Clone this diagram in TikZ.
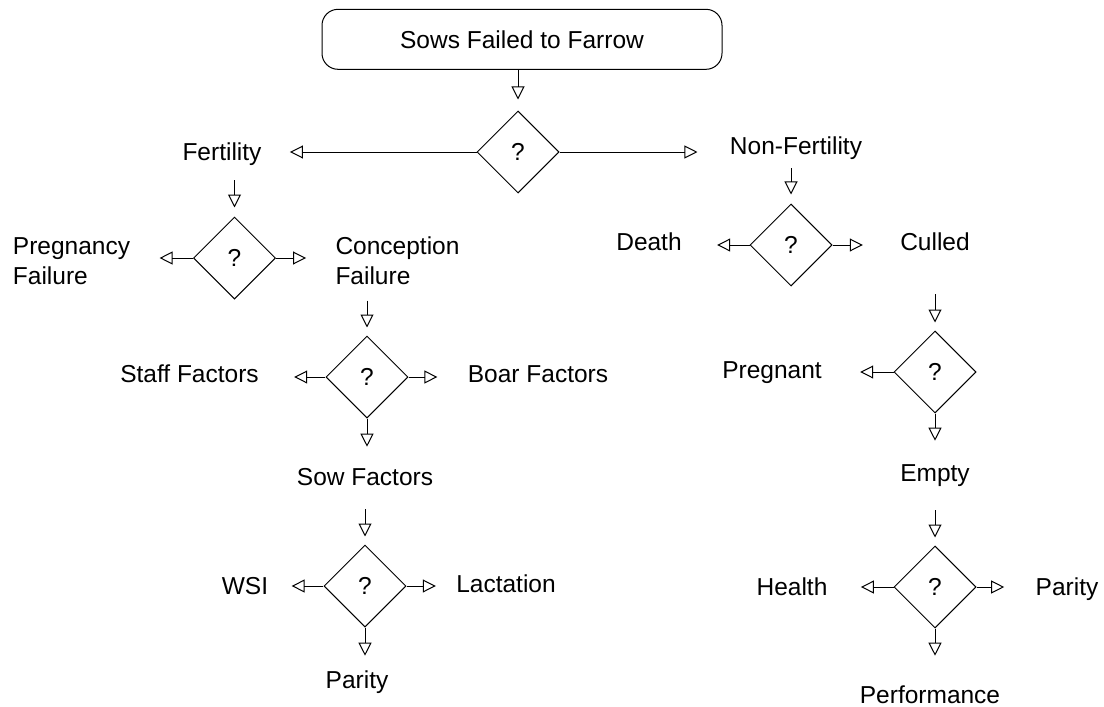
\documentclass[tikz,border=0pt]{standalone}
\usepackage{fontspec}
\setmainfont{Liberation Sans}
\usepackage{tikz}
\usetikzlibrary{positioning, arrows.meta, shapes.geometric}

\begin{document}
\begin{tikzpicture}[on grid, line width=0.5pt, ->, >={Triangle[open, length=6.5pt, width=6.5pt]},
    every node/.style={font=\fontsize{12.25}{15}\selectfont},
    start/.style={draw, rounded corners=8pt, minimum width=200pt, minimum height=30pt, inner sep=0pt},
    ask/.style={diamond, draw, minimum size=41pt, inner sep=0pt},
    lbl/.style={inner sep=0pt, text height=8.8pt, text depth=0pt},
    lbltwo/.style={inner sep=0pt, align=left}]
      \useasboundingbox (0,0) rectangle (552pt,-353.5pt);
      \node[start] (top) at (261pt,-19.65pt) {Sows Failed to Farrow};
      \node[ask, below=56.35pt of top, xshift=-2pt] (d1) {?};
      \node[lbl, left=148pt of d1] (fert) {Fertility};
      \node[lbl, right=139pt of d1, yshift=3pt] (nonfert) {Non-Fertility};
      % fertility side
      \node[ask, below=53pt of fert, xshift=6.25pt] (d2) {?};
      \node[lbltwo, left=81.5pt of d2, yshift=-1.5pt] (pregfail) {Pregnancy\\Failure};
      \node[lbltwo, right=81.5pt of d2, yshift=-1.5pt] (concfail) {Conception\\Failure};
      \node[ask, below=58pt of concfail, xshift=-15.25pt] (d3) {?};
      \node[lbl, left=88.75pt of d3, yshift=1.5pt] (staff) {Staff Factors};
      \node[lbl, right=85.5pt of d3, yshift=1.5pt] (boar) {Boar Factors};
      \node[lbl, below=50pt of d3, xshift=-1pt] (sow) {Sow Factors};
      \node[ask, below=54.5pt of sow] (d4) {?};
      \node[lbl, left=60pt of d4] (wsi) {WSI};
      \node[lbl, right=70.5pt of d4, yshift=1pt] (lact) {Lactation};
      \node[lbl, below=47pt of d4, xshift=-4pt] (parity) {Parity};
      % non-fertility side
      \node[ask, below=49.5pt of nonfert, xshift=-2.5pt] (d5) {?};
      \node[lbl, left=71pt of d5, yshift=1.5pt] (death) {Death};
      \node[lbl, right=72pt of d5, yshift=1.5pt] (culled) {Culled};
      \node[ask, below=65pt of culled] (d6) {?};
      \node[lbl, left=81.5pt of d6, yshift=1pt] (pregnant) {Pregnant};
      \node[lbl, below=50.5pt of d6] (empty) {Empty};
      \node[ask, below=57pt of empty] (d7) {?};
      \node[lbl, left=71.5pt of d7] (health) {Health};
      \node[lbl, right=66pt of d7] (paritytwo) {Parity};
      \node[lbl, below=54pt of d7, xshift=-2.5pt] (perf) {Performance};
      % into the diamonds
      \path (top.south -| d1) edge[shorten >=5.5pt] (d1);
      \path (fert.south -| d2) edge[shorten <=9.5pt, shorten >=4.5pt] (d2);
      \path (concfail.south -| d3) edge[shorten <=7.5pt, shorten >=4pt] (d3);
      \path (sow.south -| d4) edge[shorten <=11.5pt, shorten >=4pt] (d4);
      \path (nonfert.south -| d5) edge[shorten <=6.5pt, shorten >=4.5pt] (d5);
      \path (culled.south -| d6) edge[shorten <=21.5pt, shorten >=4pt] (d6);
      \path (empty.south -| d7) edge[shorten <=14pt, shorten >=4pt] (d7);
      % out of the diamonds
      \path (d1) edge[shorten >=14pt] (fert.east |- d1);
      \path (d1) edge[shorten >=16pt] (nonfert.west |- d1);
      \path (d2) edge[shorten >=14.5pt] (pregfail.east |- d2);
      \path (d2) edge[shorten >=14.5pt] (concfail.west |- d2);
      \path (d3) edge[shorten >=17.5pt] (staff.east |- d3);
      \path (d3) edge[shorten >=15pt] (boar.west |- d3);
      \path (d3) edge[shorten >=10.5pt] (sow.north -| d3);
      \path (d4) edge[shorten >=11.5pt] (wsi.east |- d4);
      \path (d4) edge[shorten >=10pt] (lact.west |- d4);
      \path (d4) edge[shorten >=7.5pt] (parity.north -| d4);
      \path (d5) edge[shorten >=17.5pt] (death.east |- d5);
      \path (d5) edge[shorten >=18.5pt] (culled.west |- d5);
      \path (d6) edge[shorten >=19pt] (pregnant.east |- d6);
      \path (d6) edge[shorten >=11.5pt] (empty.north -| d6);
      \path (d7) edge[shorten >=16.5pt] (health.east |- d7);
      \path (d7) edge[shorten >=15.5pt] (paritytwo.west |- d7);
      \path (d7) edge[shorten >=15pt] (perf.north -| d7);
\end{tikzpicture}
\end{document}
